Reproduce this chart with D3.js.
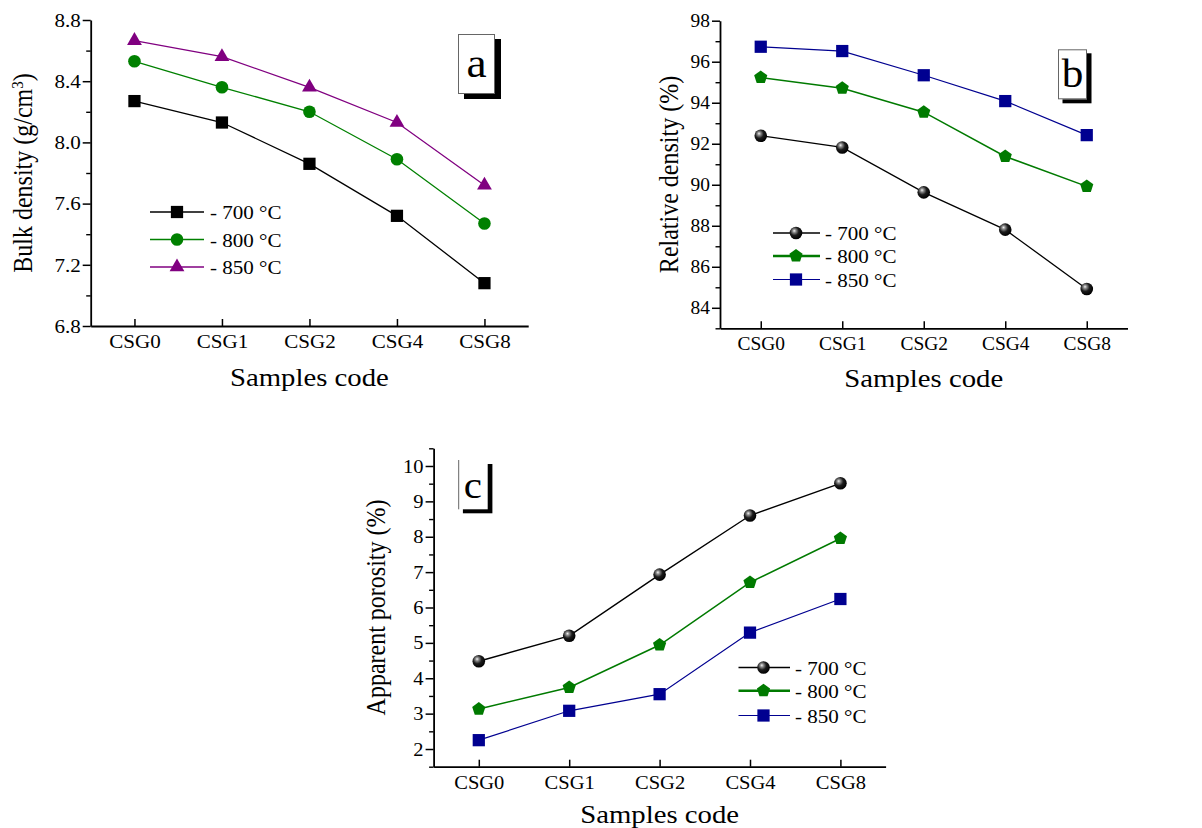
<!DOCTYPE html>
<html>
<head>
<meta charset="utf-8">
<script src="https://cdn.jsdelivr.net/npm/d3@7"></script>
<style>
  body { margin: 0; background: #fff; }
  svg text { font-family: "Liberation Serif", "Times New Roman", serif; fill: #000; }
</style>
</head>
<body>
<div id="chart"></div>
<script>
// data
var categories = ["CSG0", "CSG1", "CSG2", "CSG4", "CSG8"];
var tempLabels = ["- 700 °C", "- 800 °C", "- 850 °C"];

var bulk700 = [8.27, 8.13, 7.86, 7.52, 7.08];
var bulk800 = [8.53, 8.36, 8.20, 7.89, 7.47];
var bulk850 = [8.665, 8.56, 8.36, 8.13, 7.72];

var rel700 = [92.39, 91.82, 89.63, 87.81, 84.92];
var rel800 = [95.23, 94.71, 93.54, 91.38, 89.92];
var rel850 = [96.73, 96.52, 95.34, 94.08, 92.42];

var por700 = [4.48, 5.20, 6.93, 8.60, 9.51];
var por800 = [3.13, 3.74, 4.94, 6.71, 7.95];
var por850 = [2.25, 3.08, 3.55, 5.29, 6.24];

var bulkTicks = [6.8, 7.2, 7.6, 8.0, 8.4, 8.8];
var relTicks = [84, 86, 88, 90, 92, 94, 96, 98];
var porTicks = [2, 3, 4, 5, 6, 7, 8, 9, 10];

var svgWidth = 1202;
var svgHeight = 828;
var stretch = 1.08;      // text in the figure is a little wide
var titleStretch = 1.15;

var svg = d3.select("#chart")
  .append("svg")
  .attr("width", svgWidth)
  .attr("height", svgHeight);

var defs = svg.append("defs");
var grad = defs.append("radialGradient")
  .attr("id", "sphere")
  .attr("cx", "40%").attr("cy", "38%").attr("r", "62%")
  .attr("fx", "36%").attr("fy", "32%");
grad.append("stop").attr("offset", "0%").attr("stop-color", "#f2f2f2");
grad.append("stop").attr("offset", "22%").attr("stop-color", "#8c8c8c");
grad.append("stop").attr("offset", "55%").attr("stop-color", "#1c1c1c");
grad.append("stop").attr("offset", "100%").attr("stop-color", "#000");

var pentagon = {
  draw: function(context, size) {
    var r = Math.sqrt(size);
    for (var i = 0; i < 5; i++) {
      var a = -Math.PI / 2 + i * 2 * Math.PI / 5;
      if (i === 0) context.moveTo(r * Math.cos(a), r * Math.sin(a));
      else context.lineTo(r * Math.cos(a), r * Math.sin(a));
    }
    context.closePath();
  }
};

function addMarker(sel, kind, color) {
  if (kind === "circle") {
    sel.append("circle").attr("r", 6.3).attr("fill", color);
  } else if (kind === "sphere") {
    sel.append("circle").attr("r", 6.3).attr("fill", "url(#sphere)");
  } else {
    var type = { square: d3.symbolSquare, triangle: d3.symbolTriangle, pentagon: pentagon }[kind];
    var size = { square: 150, triangle: 95, pentagon: 48 }[kind];
    sel.append("path")
      .attr("d", d3.symbol().type(type).size(size)())
      .attr("fill", color);
  }
}

// widen text horizontally around its anchor point
function widen(texts) {
  texts.each(function() {
    var t = d3.select(this);
    var x = +t.attr("x") || 0, y = +t.attr("y") || 0;
    t.attr("x", null).attr("y", null)
      .attr("transform", "translate(" + x + "," + y + ") scale(" + stretch + ",1)");
  });
}

var panels = [
  {
    left: 90.7, top: 20, width: 437.5, height: 306,
    domain: [6.8, 8.8], ticks: bulkTicks, minorCount: 10, fmt: d3.format(".1f"),
    tickFont: 19.5,
    series: [bulk700, bulk800, bulk850],
    markers: ["square", "circle", "triangle"],
    colors: ["#000", "#008000", "#800080"],
    lineWidths: [1.3, 1.3, 1.3],
    legendWidths: [1.6, 1.3, 1.3],
    legend: { x0: 150, x1: 204, mx: 177, tx: 210, rows: [212, 239.5, 267] },
    ytitle: ["Bulk density (g/cm", "3", ")"], ytitleX: 32,
    xtitleY: 386,
    box: { x: 458, y: 34, w: 37, h: 60, dx: 6, dy: 5, letter: "a", font: 42, ty: 77, topLine: true }
  },
  {
    left: 720, top: 20.7, width: 407.5, height: 307.6,
    domain: [83, 98], ticks: relTicks, minorCount: 15, fmt: d3.format("d"),
    tickFont: 18,
    series: [rel700, rel800, rel850],
    markers: ["sphere", "pentagon", "square"],
    colors: ["#000", "#007a00", "#000090"],
    lineWidths: [1.3, 1.5, 1.2],
    legendWidths: [1.3, 2.4, 1.1],
    legend: { x0: 773, x1: 820, mx: 796, tx: 825, rows: [233, 256, 279.5] },
    ytitle: ["Relative density (%)"], ytitleX: 678,
    xtitleY: 387,
    box: { x: 1058, y: 49.3, w: 29, h: 50, dx: 4.5, dy: 4, letter: "b", font: 40, ty: 87, topLine: true }
  },
  {
    left: 433.6, top: 448.3, width: 452, height: 318.4,
    domain: [1.5, 10.5], ticks: porTicks, minorCount: 18, fmt: d3.format("d"),
    tickFont: 19,
    series: [por700, por800, por850],
    markers: ["sphere", "pentagon", "square"],
    colors: ["#000", "#007a00", "#000090"],
    lineWidths: [1.4, 1.5, 1.2],
    legendWidths: [1.3, 2.4, 1.1],
    legend: { x0: 738.5, x1: 790, mx: 763.5, tx: 795, rows: [667.5, 690.7, 715.5] },
    ytitle: ["Apparent porosity (%)"], ytitleX: 385,
    xtitleY: 823,
    box: { x: 458.2, y: 460, w: 29.5, h: 49.3, dx: 4.7, dy: 4, letter: "c", font: 38, ty: 498, topLine: false }
  }
];

panels.forEach(function(p) {
  var g = svg.append("g")
    .attr("transform", `translate(${p.left}, ${p.top})`);

  var x = d3.scalePoint()
    .domain(categories)
    .range([0, p.width])
    .padding(0.5);

  var y = d3.scaleLinear()
    .domain(p.domain)
    .range([p.height, 0]);

  // minor y ticks
  var minor = y.ticks(p.minorCount).filter(function(v) {
    return !p.ticks.some(function(t) { return Math.abs(t - v) < 1e-6; });
  });
  var minorAxis = g.append("g")
    .call(d3.axisLeft(y).tickValues(minor).tickSize(4.5).tickFormat(""));
  minorAxis.select(".domain").remove();
  minorAxis.selectAll("line").attr("stroke-width", 1.4);

  // major y ticks
  var leftAxis = g.append("g")
    .call(d3.axisLeft(y).tickValues(p.ticks).tickFormat(p.fmt)
      .tickSize(8).tickPadding(2).tickSizeOuter(0));
  leftAxis.select(".domain").attr("stroke-width", 1.8);
  leftAxis.selectAll("line").attr("stroke-width", 1.5);
  leftAxis.selectAll("text")
    .attr("font-size", p.tickFont)
    .style("font-family", '"Liberation Serif", serif');
  widen(leftAxis.selectAll("text"));

  // x axis, ticks pointing in
  var bottomAxis = g.append("g")
    .attr("transform", `translate(0, ${p.height})`)
    .call(d3.axisBottom(x).tickSize(-7).tickSizeOuter(0));
  bottomAxis.select(".domain").attr("stroke-width", 1.8);
  bottomAxis.selectAll("line").attr("stroke-width", 1.5);
  bottomAxis.selectAll("text")
    .attr("y", 22).attr("dy", null)
    .attr("font-size", p.tickFont)
    .style("font-family", '"Liberation Serif", serif');
  widen(bottomAxis.selectAll("text"));

  // series
  p.series.forEach(function(vals, i) {
    var pts = categories.map(function(c, j) { return [x(c), y(vals[j])]; });
    g.append("path")
      .attr("d", d3.line()(pts))
      .attr("fill", "none")
      .attr("stroke", p.colors[i])
      .attr("stroke-width", p.lineWidths[i]);
  });
  p.series.forEach(function(vals, i) {
    categories.forEach(function(c, j) {
      var m = g.append("g")
        .attr("transform", `translate(${x(c)}, ${y(vals[j])})`);
      addMarker(m, p.markers[i], p.colors[i]);
    });
  });

  // legend
  var L = p.legend;
  tempLabels.forEach(function(lab, i) {
    var ly = L.rows[i];
    svg.append("line")
      .attr("x1", L.x0).attr("x2", L.x1)
      .attr("y1", ly).attr("y2", ly)
      .attr("stroke", p.colors[i])
      .attr("stroke-width", p.legendWidths[i]);
    var m = svg.append("g").attr("transform", `translate(${L.mx}, ${ly})`);
    addMarker(m, p.markers[i], p.colors[i]);
    svg.append("text")
      .attr("transform", `translate(${L.tx}, ${ly + 7}) scale(${stretch},1)`)
      .attr("font-size", 19.5)
      .text(lab);
  });

  // x title
  svg.append("text")
    .attr("transform", `translate(${p.left + x("CSG2")}, ${p.xtitleY}) scale(${titleStretch},1)`)
    .attr("text-anchor", "middle")
    .attr("font-size", 25)
    .text("Samples code");

  // y title
  var yt = svg.append("text")
    .attr("transform", `translate(${p.ytitleX}, ${p.top + p.height / 2}) rotate(-90) scale(1,${titleStretch})`)
    .attr("text-anchor", "middle")
    .attr("font-size", 24);
  yt.append("tspan").text(p.ytitle[0]);
  if (p.ytitle.length > 1) {
    yt.append("tspan").attr("font-size", 15).attr("baseline-shift", "super").text(p.ytitle[1]);
    yt.append("tspan").text(p.ytitle[2]);
  }

  // letter box with shadow
  var b = p.box;
  svg.append("rect")
    .attr("x", b.x + b.dx).attr("y", b.y + b.dy)
    .attr("width", b.w).attr("height", b.h)
    .attr("fill", "#000");
  svg.append("rect")
    .attr("x", b.x).attr("y", b.y)
    .attr("width", b.w).attr("height", b.h)
    .attr("fill", "#fff");
  if (b.topLine) {
    svg.append("rect")
      .attr("x", b.x + 0.5).attr("y", b.y + 0.5)
      .attr("width", b.w - 1).attr("height", b.h - 1)
      .attr("fill", "none").attr("stroke", "#666").attr("stroke-width", 1);
  } else {
    svg.append("line")
      .attr("x1", b.x + 0.5).attr("x2", b.x + 0.5)
      .attr("y1", b.y).attr("y2", b.y + b.h)
      .attr("stroke", "#666").attr("stroke-width", 1);
  }
  svg.append("text")
    .attr("transform", `translate(${b.x + b.w / 2}, ${b.ty}) scale(${stretch},1)`)
    .attr("text-anchor", "middle")
    .attr("font-size", b.font)
    .text(b.letter);
});
</script>
</body>
</html>
